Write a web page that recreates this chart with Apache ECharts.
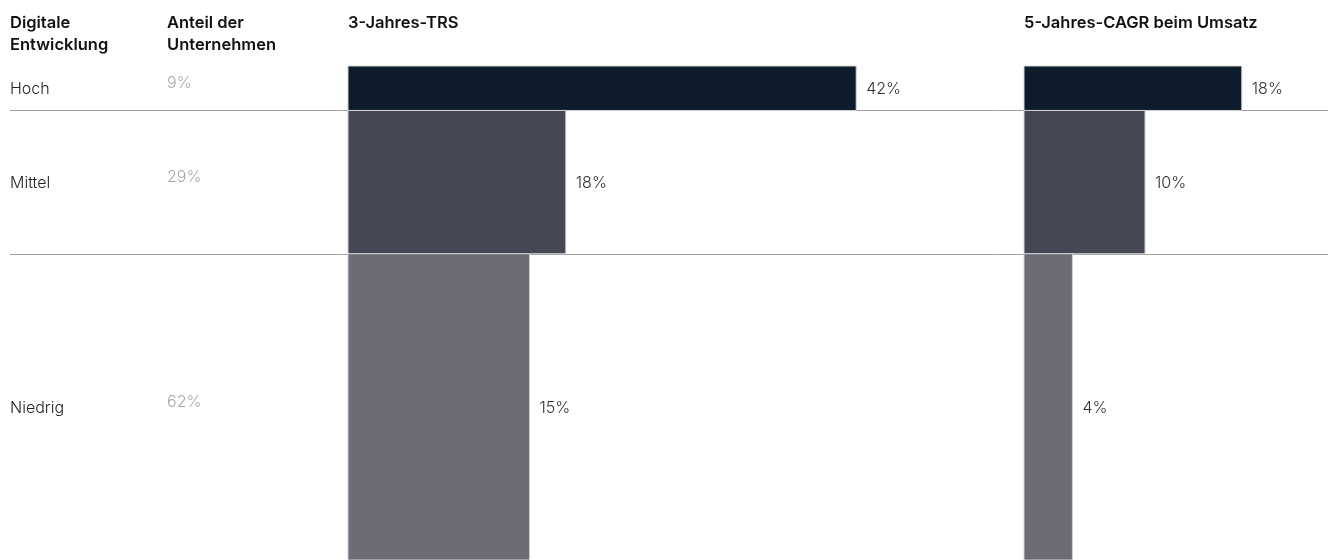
<!DOCTYPE html>
<html><head><meta charset="utf-8">
<script src="https://cdn.jsdelivr.net/npm/echarts@6/dist/echarts.min.js"></script>
<style>html,body{margin:0;padding:0;background:#fff}#c{width:1328px;height:560px}</style>
</head><body><div id="c"></div>
<script>
const categories = ['Hoch', 'Mittel', 'Niedrig'];
const shares = [9, 29, 62];
const trs = [42, 18, 15];
const cagr = [18, 10, 4];
const shareLabels = ['9%', '29%', '62%'];
const colors = ['#0c1c2b', '#454854', '#6c6b76'];
const headers = ['Digitale\nEntwicklung', 'Anteil der\nUnternehmen', '3-Jahres-TRS', '5-Jahres-CAGR beim Umsatz'];

const FONT = 'Inter, "Liberation Sans", sans-serif';
let cum = 0;
const rows = categories.map((c, i) => { const r = [i, cum, cum + shares[i]]; cum += shares[i]; return r; });

function barSeries(values, gi) {
  return {
    type: 'custom', xAxisIndex: gi, yAxisIndex: gi, z: 3,
    data: rows.map((r, i) => [values[i], r[1], r[2], i]),
    encode: { x: 0, y: [1, 2] },
    renderItem: function (params, api) {
      const v = api.value(0), y0 = api.value(1), y1 = api.value(2), i = api.value(3);
      const p0 = api.coord([0, y0]), p1 = api.coord([v, y1]);
      return {
        type: 'group', children: [
          { type: 'rect', shape: { x: p0[0], y: p0[1], width: p1[0] - p0[0], height: p1[1] - p0[1] },
            style: { fill: colors[i], stroke: '#d0d0d4', lineWidth: 1 } },
          { type: 'text', style: { x: p1[0] + 10, y: (p0[1] + p1[1]) / 2 + 1, text: values[i] + '%',
            fill: '#333', font: '300 16px ' + FONT, verticalAlign: 'middle', align: 'left' } }
        ]
      };
    }
  };
}

const hdrFont = '600 16.5px ' + FONT;
const option = {
  animation: false,
  grid: [
    { left: 348, top: 66, width: 605, height: 494 },
    { left: 1024, top: 66, width: 302.5, height: 494 },
    { left: 10, top: 66, right: 0, height: 494 }
  ],
  xAxis: [
    { gridIndex: 0, type: 'value', min: 0, max: 50, show: false },
    { gridIndex: 1, type: 'value', min: 0, max: 25, show: false },
    { gridIndex: 2, type: 'value', min: 0, max: 1, show: false }
  ],
  yAxis: [0, 1, 2].map(g => ({ gridIndex: g, type: 'value', min: 0, max: 100, inverse: true, show: false })),
  graphic: [
    { type: 'text', left: 10, top: 12, style: { text: headers[0], font: hdrFont, fill: '#111', lineHeight: 22 } },
    { type: 'text', left: 167, top: 12, style: { text: headers[1], font: hdrFont, fill: '#111', lineHeight: 22 } },
    { type: 'text', left: 348, top: 12, style: { text: headers[2], font: hdrFont, fill: '#111', lineHeight: 22 } },
    { type: 'text', left: 1024, top: 12, style: { text: headers[3], font: hdrFont, fill: '#111', lineHeight: 22 } }
  ],
  series: [
    {
      type: 'custom', xAxisIndex: 2, yAxisIndex: 2, z: 1,
      data: rows.map(r => [r[0], r[1], r[2]]),
      renderItem: function (params, api) {
        const i = api.value(0), y0 = api.value(1), y1 = api.value(2);
        const a = api.coord([0, y0]), b = api.coord([1, y1]);
        const mid = (a[1] + b[1]) / 2;
        const children = [
          { type: 'text', style: { x: a[0], y: mid + 1, text: categories[i], fill: '#222', font: '300 16px ' + FONT, verticalAlign: 'middle' } },
          { type: 'text', style: { x: 167, y: mid - 5, text: shareLabels[i], fill: '#a8a8a8', font: '300 16px ' + FONT, verticalAlign: 'middle' } }
        ];
        if (i < rows.length - 1) {
          children.push({ type: 'line', shape: { x1: a[0], y1: Math.round(b[1]) + 0.5, x2: b[0], y2: Math.round(b[1]) + 0.5 },
            style: { stroke: '#a0a0a0', lineWidth: 1 } });
        }
        return { type: 'group', children: children };
      }
    },
    barSeries(trs, 0),
    barSeries(cagr, 1)
  ]
};
echarts.init(document.getElementById('c')).setOption(option);
</script></body></html>
